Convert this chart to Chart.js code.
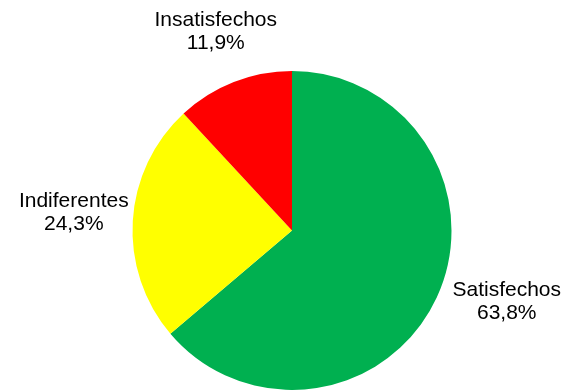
<!DOCTYPE html>
<html>
<head>
<meta charset="utf-8">
<script src="https://cdn.jsdelivr.net/npm/chart.js@4"></script>
<style>
  html, body { margin: 0; padding: 0; background: #ffffff; }
  #wrap { width: 580px; height: 390px; }
</style>
</head>
<body>
<div id="wrap"><canvas id="chart" width="580" height="390"></canvas></div>
<script>
// Survey satisfaction shares (percent)
const categories = ['Satisfechos', 'Indiferentes', 'Insatisfechos'];
const shares = [63.8, 24.3, 11.9];
const sliceColors = ['#00B050', '#FFFF00', '#FF0000'];

// Label offsets from the slice's outer edge at its mid-angle (text block centre)
const labelOffsets = [[70, 4], [-59, -8], [-18, -50]];

const fmtPct = v => v.toFixed(1).replace('.', ',') + '%';

const outsideLabels = {
  id: 'outsideLabels',
  afterDatasetsDraw(chart) {
    const ctx = chart.ctx;
    const meta = chart.getDatasetMeta(0);
    ctx.save();
    ctx.font = '21px "Liberation Sans", Arial, sans-serif';
    ctx.fillStyle = '#000000';
    ctx.textAlign = 'center';
    ctx.textBaseline = 'middle';
    meta.data.forEach((arc, i) => {
      const p = arc.getProps(['x', 'y', 'startAngle', 'endAngle', 'outerRadius'], true);
      const mid = (p.startAngle + p.endAngle) / 2;
      const ex = p.x + Math.cos(mid) * p.outerRadius;
      const ey = p.y + Math.sin(mid) * p.outerRadius;
      const cx = ex + labelOffsets[i][0];
      const cy = ey + labelOffsets[i][1];
      ctx.fillText(categories[i], cx, cy - 11.5);
      ctx.fillText(fmtPct(shares[i]), cx, cy + 11.5);
    });
    ctx.restore();
  }
};

new Chart(document.getElementById('chart'), {
  type: 'pie',
  data: {
    labels: categories,
    datasets: [{
      data: shares,
      backgroundColor: sliceColors,
      borderWidth: 0
    }]
  },
  options: {
    responsive: false,
    animation: false,
    layout: { padding: { left: 132, right: 128, top: 71, bottom: 0 } },
    plugins: {
      legend: { display: false },
      tooltip: { enabled: false }
    }
  },
  plugins: [outsideLabels]
});
</script>
</body>
</html>
